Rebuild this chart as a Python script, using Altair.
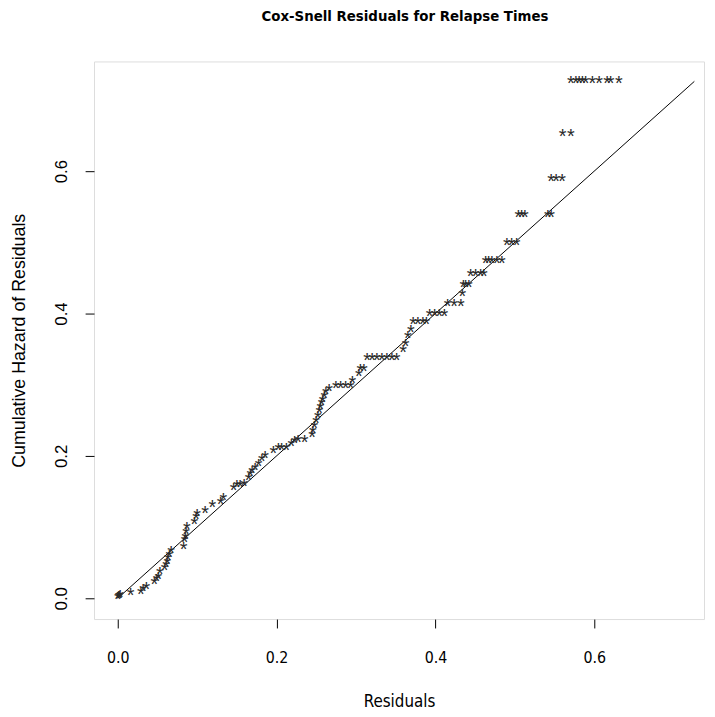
import altair as alt
import pandas as pd

# Cox-Snell residuals (x) and Nelson-Aalen cumulative hazard (y)
resid = [0.000, 0.001, 0.002, 0.003, 0.016, 0.029, 0.032, 0.036, 0.046, 0.049,
         0.051, 0.053, 0.059, 0.061, 0.0625, 0.063, 0.065, 0.067, 0.083, 0.084,
         0.085, 0.086, 0.087, 0.0965, 0.0985, 0.0998, 0.110, 0.119, 0.1296, 0.133,
         0.146, 0.150, 0.154, 0.159, 0.1648, 0.1668, 0.169, 0.173, 0.1773, 0.1814,
         0.1855, 0.1959, 0.2021, 0.2062, 0.2124, 0.2186, 0.2227, 0.227, 0.2352, 0.2447,
         0.2456, 0.2476, 0.2497, 0.2518, 0.2538, 0.255, 0.2565, 0.258, 0.26, 0.2621,
         0.2662, 0.2745, 0.2807, 0.287, 0.2932, 0.2953, 0.3035, 0.3056, 0.3097, 0.3139,
         0.3201, 0.3263, 0.3326, 0.3388, 0.345, 0.3512, 0.3594, 0.3623, 0.3652, 0.369,
         0.3718, 0.378, 0.3842, 0.3884, 0.3925, 0.3988, 0.405, 0.4112, 0.4153, 0.4236,
         0.4319, 0.434, 0.4352, 0.438, 0.4422, 0.4443, 0.4506, 0.4568, 0.4609, 0.463,
         0.467, 0.471, 0.4774, 0.4836, 0.4898, 0.496, 0.5022, 0.5043, 0.5084, 0.5127,
         0.5416, 0.5457, 0.5457, 0.5519, 0.5594, 0.5602, 0.5706, 0.5706, 0.5768, 0.581,
         0.5851, 0.5892, 0.5975, 0.6062, 0.6161, 0.6205, 0.631]
cumhaz = [0.000, 0.001, 0.002, 0.003, 0.006, 0.007, 0.011, 0.015, 0.021, 0.025,
          0.029, 0.035, 0.041, 0.045, 0.050, 0.055, 0.059, 0.065, 0.070, 0.080,
          0.085, 0.092, 0.099, 0.106, 0.1125, 0.117, 0.121, 0.129, 0.133, 0.140,
          0.154, 0.158, 0.158, 0.159, 0.168, 0.1726, 0.1774, 0.1819, 0.1865, 0.1935,
          0.199, 0.2051, 0.2097, 0.2097, 0.2097, 0.2149, 0.219, 0.2212, 0.2212, 0.2282,
          0.2338, 0.2399, 0.2468, 0.2538, 0.2618, 0.2676, 0.2722, 0.2768, 0.2826, 0.2885,
          0.2931, 0.2972, 0.2972, 0.2972, 0.2972, 0.3032, 0.3139, 0.3208, 0.3208, 0.3365,
          0.3365, 0.3365, 0.3365, 0.3365, 0.3365, 0.3365, 0.3472, 0.3563, 0.3667, 0.3757,
          0.3865, 0.3865, 0.3865, 0.3865, 0.3972, 0.3972, 0.3972, 0.3972, 0.4111, 0.4111,
          0.4111, 0.4264, 0.4389, 0.4389, 0.4389, 0.4542, 0.4542, 0.4542, 0.4542, 0.4726,
          0.4726, 0.4726, 0.4726, 0.4726, 0.4977, 0.4977, 0.4977, 0.5371, 0.5371, 0.5371,
          0.5371, 0.5371, 0.5879, 0.5879, 0.5879, 0.6504, 0.6504, 0.7246, 0.7246, 0.7246,
          0.7246, 0.7246, 0.7246, 0.7246, 0.7246, 0.7246, 0.7246]

ref_x = [0.0, 0.726]
ref_y = [0.0, 0.726]

x_ticks = [0.0, 0.2, 0.4, 0.6]
y_ticks = [0.0, 0.2, 0.4, 0.6]

title_text = ["Cox-Snell Residuals for Relapse Times"]

W, H = 617, 564
narrow = "Liberation Sans Narrow, DejaVu Sans Condensed, Liberation Sans, Arial"
regular = "Liberation Sans, Arial"

pts = pd.DataFrame({"x": resid, "y": cumhaz})
ref = pd.DataFrame({"x": ref_x, "y": ref_y})
ttl = pd.DataFrame({"t": title_text})

xscale = alt.Scale(domain=[-0.0299, 0.7382], nice=False, zero=False)
yscale = alt.Scale(domain=[-0.0292, 0.754], nice=False, zero=False)

xaxis = alt.Axis(values=x_ticks, format=".1f", grid=False, domain=False,
                 tickSize=9, tickColor="#000", tickWidth=1,
                 labelFont=narrow, labelFontSize=16, labelColor="#000",
                 labelPadding=22, title="Residuals", titleFont=narrow,
                 titleFontSize=17, titleFontWeight="normal", titleColor="#000",
                 titleX=W / 2, titleY=83, titleBaseline="middle", titleAlign="center")
yaxis = alt.Axis(values=y_ticks, format=".1f", grid=False, domain=False,
                 tickSize=9, tickColor="#000", tickWidth=1,
                 labelFont=regular, labelFontSize=17, labelColor="#000",
                 labelAngle=270, labelAlign="center", labelBaseline="middle",
                 labelPadding=24, title="Cumulative Hazard of Residuals",
                 titleFont=regular, titleFontSize=18, titleFontWeight="normal",
                 titleColor="#000", titleAngle=270, titleX=-75, titleY=H / 2,
                 titleBaseline="middle", titleAlign="center")

line = alt.Chart(ref).mark_line(color="#000", strokeWidth=1).encode(
    x=alt.X("x:Q", scale=xscale, axis=xaxis),
    y=alt.Y("y:Q", scale=yscale, axis=yaxis),
)

stars = alt.Chart(pts).mark_text(text="*", font=regular, fontSize=20,
                                 color="#2a2a2a", baseline="alphabetic",
                                 align="center", dy=8).encode(
    x=alt.X("x:Q", scale=xscale),
    y=alt.Y("y:Q", scale=yscale),
)

title = alt.Chart(ttl).mark_text(font=narrow, fontSize=15, fontWeight="bold",
                                 color="#000", align="center",
                                 baseline="middle").encode(
    text="t:N",
    x=alt.value(W / 2 + 6),
    y=alt.value(-46),
)

chart = alt.layer(line, stars, title).properties(
    width=W, height=H,
    autosize=alt.AutoSizeParams(type="none"),
    padding={"left": 87, "top": 50, "right": 3, "bottom": 95},
).configure_view(stroke="#000", strokeWidth=1).configure(background="white")

chart.save("out.html", embed_options={"renderer": "svg", "actions": False})
